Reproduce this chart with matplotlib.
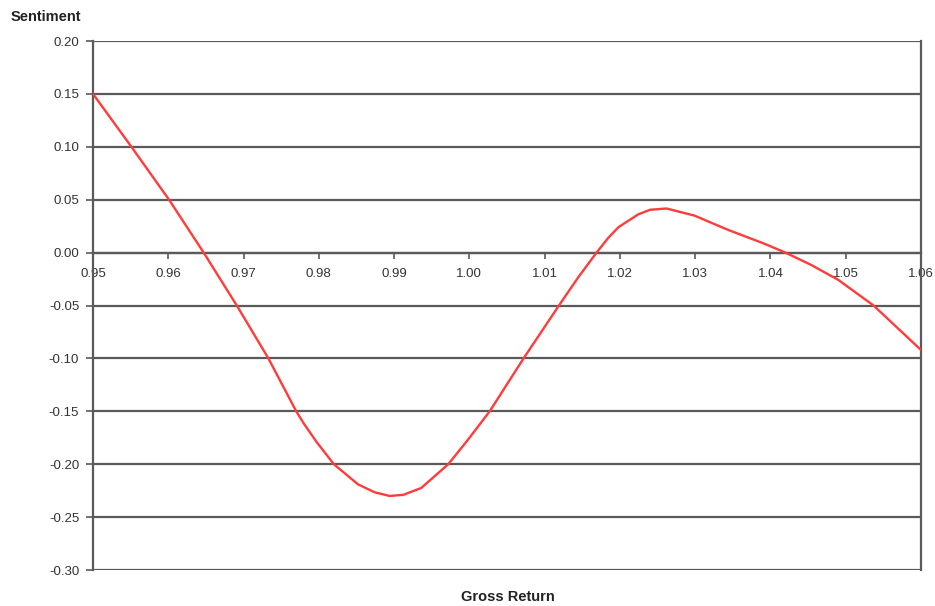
import numpy as np
import matplotlib.pyplot as plt

plt.rcParams['font.family'] = ['Liberation Sans', 'DejaVu Sans']

# values
gross_return = [0.9500, 0.9551, 0.9601, 0.9647, 0.9691, 0.9733, 0.9760, 0.9770,
                0.9780, 0.9797, 0.9820, 0.9852, 0.9874, 0.9894, 0.9912, 0.9936,
                0.9972, 0.9998, 1.0027, 1.0072, 1.0119, 1.0145, 1.0169, 1.0184,
                1.0198, 1.0224, 1.0240, 1.0262, 1.0299, 1.0343, 1.0392, 1.0420,
                1.0454, 1.0490, 1.0537, 1.0600]
sentiment = [0.150, 0.100, 0.050, 0.000, -0.050, -0.100, -0.1365, -0.150,
             -0.1615, -0.179, -0.200, -0.219, -0.2265, -0.230, -0.229, -0.2225,
             -0.200, -0.177, -0.150, -0.100, -0.050, -0.023, 0.000, 0.0135,
             0.024, 0.036, 0.0405, 0.0417, 0.035, 0.0217, 0.0084, 0.000,
             -0.0116, -0.0257, -0.050, -0.092]

x_ticks = [0.95, 0.96, 0.97, 0.98, 0.99, 1.00, 1.01, 1.02, 1.03, 1.04, 1.05, 1.06]
y_ticks = [0.20, 0.15, 0.10, 0.05, 0.00, -0.05, -0.10, -0.15, -0.20, -0.25, -0.30]

grid_col = '#5a5a5a'
txt_col = '#333333'

fig = plt.figure(figsize=(9.35, 6.06), dpi=100)
ax = fig.add_axes([0.0995, 0.0594, 0.8855, 0.8729])

for yv in y_ticks:
    ax.axhline(yv, color=grid_col, lw=1.6, zorder=1)

ax.plot(gross_return, sentiment, color='#ff3b3b', lw=1.7, zorder=3,
        solid_joinstyle='round')

ax.set_xlim(0.95, 1.06)
ax.set_ylim(-0.30, 0.20)

ax.spines['top'].set_visible(False)
ax.spines['bottom'].set_position(('data', 0))
for s in ['left', 'right', 'bottom']:
    ax.spines[s].set_color(grid_col)
    ax.spines[s].set_linewidth(1.6)

ax.set_xticks(x_ticks)
ax.set_xticklabels(['%.2f' % v for v in x_ticks])
ax.set_yticks(y_ticks)
ax.set_yticklabels(['%.2f' % v for v in y_ticks])
ax.tick_params(axis='x', direction='out', length=4, width=1.2, color=grid_col,
               labelsize=9.5, labelcolor=txt_col, pad=7)
ax.tick_params(axis='y', direction='out', length=5, width=1.2, color=grid_col,
               labelsize=9.5, labelcolor=txt_col, pad=5)

fig.text(0.011, 0.972, 'Sentiment', fontsize=10.5, fontweight='bold', color='#222222',
         ha='left', va='center')
fig.text(0.543, 0.015, 'Gross Return', fontsize=10.5, fontweight='bold', color='#222222',
         ha='center', va='center')

fig.savefig('out.png', dpi=100)
